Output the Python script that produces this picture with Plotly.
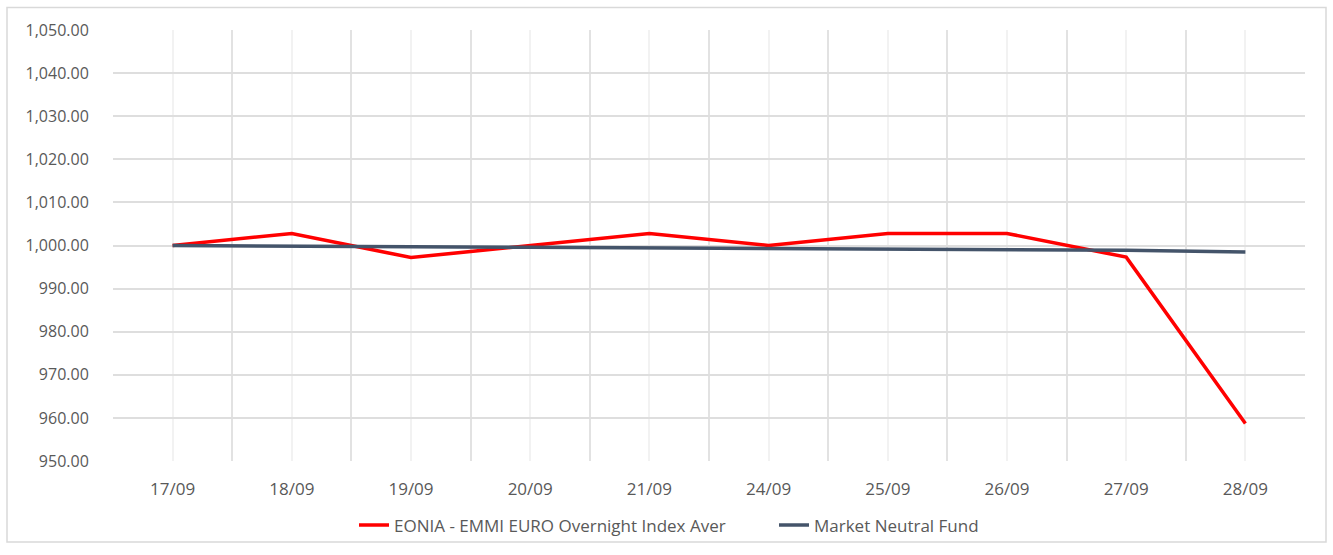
import plotly.graph_objects as go

dates = ["17/09", "18/09", "19/09", "20/09", "21/09", "24/09", "25/09", "26/09", "27/09", "28/09"]
eonia = [1000.0, 1002.8, 997.2, 1000.0, 1002.8, 1000.0, 1002.8, 1002.8, 997.3, 958.7]
fund = [1000.0, 999.95, 999.7, 999.6, 999.5, 999.3, 999.2, 999.0, 998.9, 998.5]
y_ticks = [950, 960, 970, 980, 990, 1000, 1010, 1020, 1030, 1040, 1050]

xs = list(range(len(dates)))
FONT = "Open Sans"
TXT = "#595959"

fig = go.Figure()
fig.add_trace(go.Scatter(x=xs, y=eonia, mode="lines", name="EONIA - EMMI EURO Overnight Index Aver",
                         line=dict(color="#ff0000", width=3.5)))
fig.add_trace(go.Scatter(x=xs, y=fund, mode="lines", name="Market Neutral Fund",
                         line=dict(color="#44546a", width=3.5)))

L, R, T, B = 113, 28, 30, 84
W, H = 1333, 555
pw, ph = W - L - R, H - T - B

fig.update_layout(
    width=W, height=H,
    margin=dict(l=L, r=R, t=T, b=B),
    paper_bgcolor="white", plot_bgcolor="white",
    font=dict(family=FONT, size=16, color=TXT),
    showlegend=True,
    legend=dict(orientation="h", x=(354 - L) / pw, xanchor="left", y=(T + ph - 537) / ph, yanchor="middle",
                font=dict(family=FONT, size=17, color=TXT), entrywidth=375, itemwidth=30,
                bgcolor="rgba(0,0,0,0)"),
    xaxis=dict(range=[-0.5, len(dates) - 0.5], tickvals=xs, ticktext=dates,
               showgrid=True, gridcolor="#f2f2f2", gridwidth=1.5,
               ticks="outside", ticklen=13, tickcolor="rgba(0,0,0,0)",
               minor=dict(tickvals=[i - 0.5 for i in range(len(dates) + 1)], showgrid=True,
                          gridcolor="#e2e2e2", gridwidth=1.6, ticks=""),
               zeroline=False, showline=False, fixedrange=True,
               tickfont=dict(family=FONT, size=17, color=TXT)),
    yaxis=dict(range=[950, 1050], tickvals=y_ticks, tickformat=",.2f",
               showgrid=True, gridcolor="#dedede", gridwidth=2,
               ticks="outside", ticklen=20, tickcolor="rgba(0,0,0,0)",
               zeroline=False, showline=False, fixedrange=True,
               tickfont=dict(family=FONT, size=16, color=TXT)),
)

fig.add_shape(type="rect", xref="paper", yref="paper",
              x0=(7 - L) / pw, x1=(1326 - L) / pw,
              y0=(T + ph - 554) / ph, y1=(T + ph - 7) / ph,
              line=dict(color="#d9d9d9", width=1.5), fillcolor="rgba(0,0,0,0)", layer="below")

css_js = (
    "var s=document.createElement('style');"
    "s.textContent='html,body{margin:0;padding:0;overflow:hidden;height:555px;width:1333px;}"
    ".plotly-graph-div{display:block;}';"
    "document.head.appendChild(s);"
)
fig.write_html("out.html", config={"displayModeBar": False}, post_script=css_js)
